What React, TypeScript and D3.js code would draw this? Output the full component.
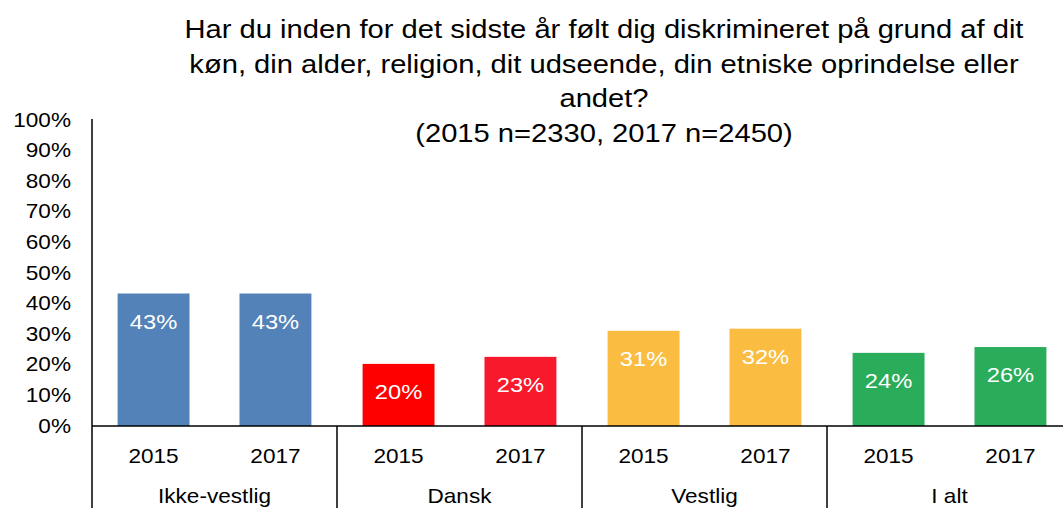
import React from "react";
import * as d3 from "d3";

const groups = ["Ikke-vestlig", "Dansk", "Vestlig", "I alt"];
const years = ["2015", "2017"];
const values2015 = [43.3, 20.3, 31.1, 23.9];
const values2017 = [43.3, 22.6, 31.8, 25.8];
const colors2015 = ["#5282b8", "#ff0000", "#fbbd41", "#2aad5b"];
const colors2017 = ["#5282b8", "#f8192d", "#fbbd41", "#2aad5b"];
const yTicks = [0, 10, 20, 30, 40, 50, 60, 70, 80, 90, 100];
const titleLines = [
  "Har du inden for det sidste år følt dig diskrimineret på grund af dit",
  "køn, din alder, religion, dit udseende, din etniske oprindelse eller",
  "andet?",
  "(2015 n=2330, 2017 n=2450)",
];

const font = "'Liberation Sans', Arial, sans-serif";

function T({ x, y, sx = 1.13, size = 20, anchor = "middle", fill = "#000", children }: any) {
  return (
    <text transform={`translate(${x},${y}) scale(${sx},1)`} textAnchor={anchor} fontFamily={font} fontSize={size} fill={fill}>
      {children}
    </text>
  );
}

export default function App() {
  const W = 1063, H = 508;
  const left = 92, top = 120, bottom = 426;
  const x0 = d3.scaleBand<string>().domain(groups).range([left, left + 245 * 4]);
  const x1 = d3.scaleBand<string>().domain(years).range([0, x0.bandwidth()]).paddingInner(0.41).paddingOuter(0.21);
  const y = d3.scaleLinear().domain([0, 100]).range([bottom, top]);
  return (
    <svg width={W} height={H} style={{ position: "absolute", left: 0, top: 0, background: "#fff" }}>
      <rect width={W} height={H} fill="#fff" />
      {titleLines.map((t, i) => (
        <T key={i} x={604} y={38.3 + i * 34.5} size={26.5} sx={1.1}>{t}</T>
      ))}
      {yTicks.map((t) => (
        <T key={t} x={71} y={y(t) + 6.5} anchor="end">{t}%</T>
      ))}
      {groups.map((g, gi) => (
        <g key={g}>
          {years.map((yr, yi) => {
            const v = yi === 0 ? values2015[gi] : values2017[gi];
            const c = yi === 0 ? colors2015[gi] : colors2017[gi];
            const bx = (x0(g) as number) + (x1(yr) as number);
            const cx = bx + x1.bandwidth() / 2;
            return (
              <g key={yr}>
                <rect x={bx} y={y(v)} width={x1.bandwidth()} height={bottom - y(v)} fill={c} />
                <T x={cx} y={y(v) + 35} size={21} fill="#fff">{Math.round(v)}%</T>
                <T x={cx} y={462.7}>{yr}</T>
              </g>
            );
          })}
          <T x={(x0(g) as number) + x0.bandwidth() / 2} y={503}>{g}</T>
          {gi > 0 && <line x1={x0(g)} x2={x0(g)} y1={bottom} y2={H} stroke="#000" strokeWidth={1.5} />}
        </g>
      ))}
      <line x1={left} x2={left} y1={top - 1} y2={H} stroke="#000" strokeWidth={1.5} />
      <line x1={left} x2={W} y1={bottom} y2={bottom} stroke="#000" strokeWidth={1.5} />
    </svg>
  );
}
